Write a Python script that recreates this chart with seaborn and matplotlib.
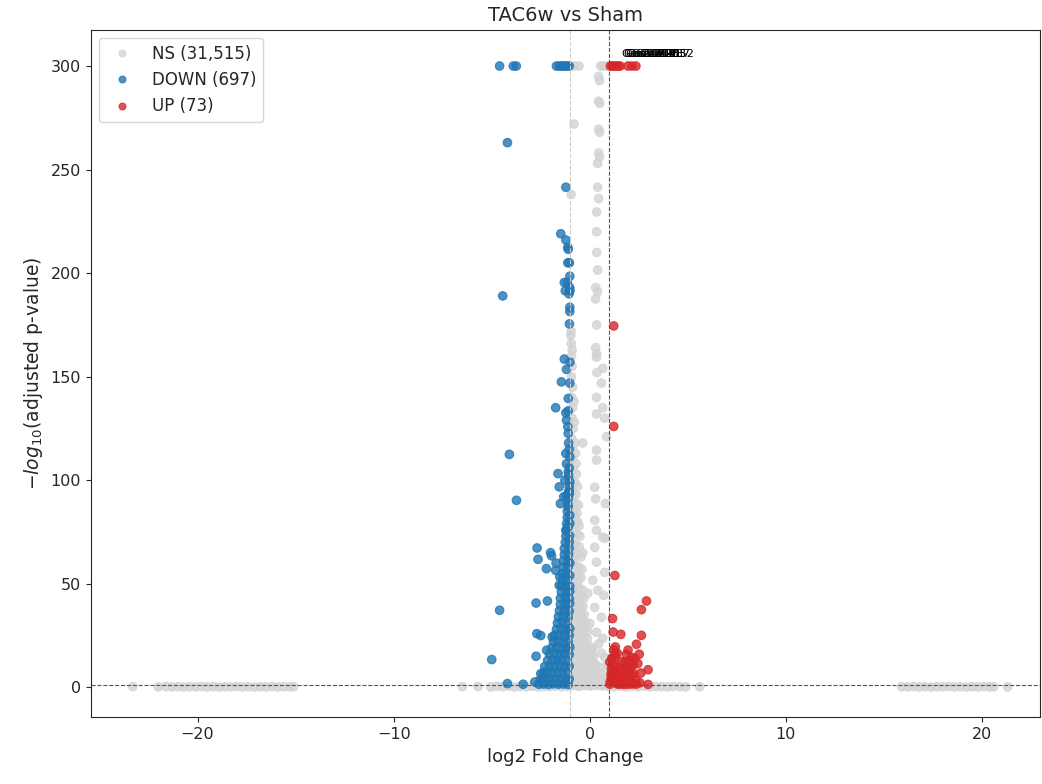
import pandas as pd
import matplotlib
matplotlib.use('Agg')
import matplotlib.pyplot as plt
import seaborn as sns

# values: (log2 fold change, -log10 adjusted p)
groups = ['NS', 'DOWN', 'UP']
group_counts = ['31,515', '697', '73']
group_colors = ['lightgray', '#1f77b4', '#d62728']

ns_far_left = [(-23.3, 0.3), (-22.0, 0.2), (-21.6, 0.4), (-21.3, 0.2), (-21.0, 0.3), (-20.7, 0.1),
               (-20.4, 0.3), (-20.1, 0.2), (-19.8, 0.4), (-19.5, 0.2), (-19.2, 0.3), (-18.9, 0.1),
               (-18.6, 0.3), (-18.3, 0.2), (-18.0, 0.4), (-17.7, 0.2), (-17.4, 0.3), (-17.1, 0.1),
               (-16.8, 0.3), (-16.5, 0.2), (-16.2, 0.4), (-15.9, 0.2), (-15.6, 0.3), (-15.3, 0.2),
               (-15.1, 0.3)]
ns_far_right = [(15.9, 0.3), (16.2, 0.2), (16.5, 0.4), (16.8, 0.2), (17.1, 0.3), (17.4, 0.1),
                (17.7, 0.3), (18.0, 0.2), (18.3, 0.4), (18.6, 0.2), (18.9, 0.3), (19.2, 0.1),
                (19.5, 0.3), (19.8, 0.2), (20.1, 0.4), (20.4, 0.2), (20.6, 0.3), (21.3, 0.2)]
ns_base = [(-6.5, 0.3), (-5.7, 0.4), (-5.05, 0.2), (-4.75, 0.5), (-4.45, 0.3), (-4.15, 0.6),
           (-3.85, 0.2), (-3.55, 0.4), (-3.25, 0.3), (-2.95, 0.5), (-2.65, 0.2), (-2.35, 0.4),
           (-2.05, 0.3), (-1.75, 0.6), (-1.45, 0.2), (-1.15, 0.4), (-0.85, 0.8), (-0.55, 0.5),
           (-0.25, 0.9), (0.05, 0.6), (0.35, 1.0), (0.65, 0.7), (0.95, 0.4), (1.25, 0.3),
           (1.55, 0.5), (1.85, 0.2), (2.15, 0.4), (2.45, 0.3), (2.75, 0.5), (3.05, 0.2),
           (3.35, 0.4), (3.65, 0.3), (3.95, 0.2), (4.25, 0.4), (4.6, 0.3), (4.9, 0.2), (5.6, 0.3)]
ns_tall = [(-0.8, 300), (-0.55, 300), (0.55, 300), (0.7, 300), (0.85, 300),
           (0.45, 295), (0.5, 293), (0.45, 283), (0.5, 282), (-0.8, 272), (0.45, 269.5),
           (0.5, 268), (0.45, 258), (0.5, 256), (0.4, 253), (0.4, 241.5), (-0.95, 238),
           (0.45, 236), (0.35, 229.5), (0.35, 220), (0.35, 210), (0.4, 201.5), (0.3, 193),
           (0.4, 191), (0.3, 187.5), (0.35, 175), (-0.97, 170), (-0.95, 166), (0.3, 164),
           (-0.9, 163), (0.35, 161), (0.34, 159.4), (0.66, 154), (0.36, 152), (0.59, 146.9),
           (0.34, 140), (0.66, 135), (0.34, 132), (0.76, 130), (0.85, 121), (-0.36, 118),
           (0.34, 114.5), (0.34, 109.7), (0.25, 96.6), (0.3, 91), (0.8, 88.7), (0.25, 80.7),
           (0.34, 75.8), (0.76, 72), (0.66, 72.5), (0.25, 67.6), (-0.36, 65), (0.34, 60.4),
           (0.76, 55.5), (0.15, 51.7), (0.41, 46.9), (-0.1, 45.4), (0.71, 44.4), (0.25, 38.6),
           (0.59, 33.8), (0.0, 30.9), (0.34, 26.6), (0.66, 23.7), (0.15, 18.8), (0.76, 14.5),
           (0.51, 9.7), (0.85, 6.8), (0.6, 16.5), (0.45, 21), (0.9, 11), (0.7, 3.5)]
ns_cone = [(-0.93, 150), (-0.88, 145), (-0.92, 140), (-0.8, 138), (-0.88, 135), (-0.9, 130),
           (-0.78, 128), (-0.85, 125), (-0.92, 120), (-0.75, 118), (-0.88, 115), (-0.72, 113),
           (-0.9, 110), (-0.7, 108), (-0.85, 105), (-0.68, 103), (-0.92, 100), (-0.75, 99),
           (-0.62, 97), (-0.88, 95), (-0.7, 93), (-0.92, 90), (-0.75, 89), (-0.58, 88),
           (-0.85, 85), (-0.65, 84), (-0.9, 80), (-0.72, 79), (-0.55, 78), (-0.85, 75),
           (-0.65, 74), (-0.5, 73), (-0.92, 70), (-0.75, 69), (-0.55, 68), (-0.85, 65),
           (-0.65, 64), (-0.45, 63), (-0.92, 60), (-0.75, 59), (-0.55, 58), (-0.4, 57),
           (-0.85, 55), (-0.65, 54), (-0.45, 53), (-0.92, 50), (-0.75, 49), (-0.55, 48),
           (-0.38, 47), (-0.85, 46), (-0.65, 45), (-0.45, 44), (-0.3, 43), (-0.92, 42),
           (-0.75, 41), (-0.55, 40), (-0.35, 39), (-0.85, 38), (-0.65, 37), (-0.45, 36),
           (-0.28, 35), (-0.92, 34), (-0.75, 33), (-0.55, 32), (-0.35, 31.5), (-0.2, 31),
           (-0.85, 30), (-0.65, 29), (-0.45, 28.5), (-0.25, 28), (-0.12, 27), (-0.92, 26),
           (-0.72, 25), (-0.52, 24.5), (-0.32, 24), (-0.12, 23.5), (-0.85, 22), (-0.65, 21.5),
           (-0.45, 21), (-0.25, 20.5), (-0.05, 20), (0.08, 19), (-0.92, 18), (-0.72, 17.5),
           (-0.52, 17), (-0.32, 16.5), (-0.12, 16), (0.08, 15.5), (0.2, 15), (-0.85, 14),
           (-0.65, 13.5), (-0.45, 13), (-0.25, 12.5), (-0.05, 12), (0.15, 11.5), (0.3, 11),
           (-0.92, 10), (-0.72, 9.5), (-0.52, 9), (-0.32, 8.5), (-0.12, 8), (0.08, 7.5),
           (0.28, 7.2), (0.42, 7), (-0.85, 6), (-0.65, 5.8), (-0.45, 5.5), (-0.25, 5.2),
           (-0.05, 5), (0.15, 4.8), (0.35, 4.5), (0.55, 4.2), (0.7, 4), (-0.92, 3),
           (-0.72, 2.8), (-0.52, 2.6), (-0.32, 2.4), (-0.12, 2.2), (0.08, 2.0), (0.28, 1.9),
           (0.48, 1.8), (0.68, 1.7), (0.88, 1.6), (-0.9, 1.2), (-0.6, 1.1), (-0.3, 1.0),
           (0.0, 1.2), (0.3, 1.1), (0.6, 0.9), (-0.93, 160), (-0.9, 155), (-0.95, 172),
           (-0.8, 62), (-0.6, 51), (-0.7, 43.5), (-0.5, 38), (-0.38, 33), (-0.6, 27),
           (-0.4, 22.5), (-0.18, 18), (0.0, 14), (-0.2, 10.5), (0.2, 9), (0.45, 3.2),
           (-0.4, 4), (0.0, 3.5), (-0.6, 7.5), (-0.8, 83), (-0.62, 80), (-0.85, 92)]

down_top = [(-4.6, 300), (-3.9, 300), (-3.75, 300), (-1.7, 300), (-1.55, 300), (-1.45, 300),
            (-1.35, 300), (-1.25, 300), (-1.15, 300), (-1.05, 300)]
down_outliers = [(-4.2, 263), (-1.22, 241.5), (-4.44, 189), (-4.1, 112.5), (-3.74, 90.3),
                 (-4.6, 37.2), (-5.0, 13.4), (-4.2, 1.8), (-3.4, 1.5), (-2.8, 2.6), (-2.69, 67.3),
                 (-2.64, 61.8), (-2.0, 65), (-1.95, 63.5), (-2.21, 57.3), (-1.74, 56.5),
                 (-1.72, 60), (-1.53, 53.3), (-1.56, 49.3), (-2.74, 40.7), (-2.16, 41.7),
                 (-2.7, 25.9), (-2.5, 25), (-1.92, 24.3), (-2.74, 15), (-2.2, 17.9),
                 (-2.5, 6.6), (-2.4, 5)]
down_column = [(-1.48, 219), (-1.22, 216), (-1.12, 212.5), (-1.1, 211.5), (-1.12, 205),
               (-1.04, 205), (-1.02, 198.5), (-1.3, 195.5), (-1.15, 195.5), (-1.02, 193),
               (-1.01, 191.5), (-1.25, 191.5), (-1.06, 190), (-1.02, 183.5), (-1.02, 181.5),
               (-1.04, 175.5), (-1.3, 158.5), (-1.01, 157), (-1.19, 153.5), (-1.45, 147.5),
               (-1.02, 146.9), (-1.74, 135), (-1.1, 139.5), (-1.22, 132.5), (-1.1, 133.5),
               (-1.19, 129), (-1.12, 125.8), (-1.1, 122.6), (-1.22, 112.9), (-1.02, 111.3),
               (-1.19, 108), (-1.62, 103.2), (-1.27, 100), (-1.02, 99.2), (-1.56, 96.8),
               (-1.33, 92), (-1.19, 92.3), (-1.5, 88.7), (-1.1, 87.1), (-1.22, 75.8),
               (-1.1, 77.4), (-1.08, 118), (-1.05, 115), (-1.1, 104), (-1.05, 95)]
down_dense = [(-2.6, 1.5), (-2.35, 1.6), (-2.1, 1.4), (-1.85, 1.7), (-1.6, 1.5), (-1.35, 1.6), (-1.1, 1.4),
              (-2.5, 4), (-2.25, 4.2), (-2.0, 3.8), (-1.75, 4.1), (-1.5, 3.9), (-1.25, 4.2), (-1.05, 4),
              (-2.35, 7.2), (-2.15, 7), (-1.9, 6.8), (-1.65, 7.1), (-1.4, 6.9), (-1.15, 7.2),
              (-2.3, 10), (-2.05, 10.2), (-1.8, 9.8), (-1.55, 10.1), (-1.3, 9.9), (-1.05, 10.2),
              (-2.15, 13), (-1.9, 13.2), (-1.65, 12.8), (-1.4, 13.1), (-1.15, 12.9),
              (-2.05, 16), (-1.8, 16.2), (-1.55, 15.8), (-1.3, 16.1), (-1.05, 15.9),
              (-1.95, 19), (-1.7, 19.2), (-1.45, 18.8), (-1.2, 19.1), (-1.02, 19.4),
              (-1.85, 22), (-1.6, 22.2), (-1.35, 21.8), (-1.1, 22.1),
              (-1.8, 25.2), (-1.55, 25), (-1.3, 24.8), (-1.05, 25.1),
              (-1.7, 28), (-1.45, 28.2), (-1.2, 27.8), (-1.02, 28.4),
              (-1.65, 31), (-1.4, 31.2), (-1.15, 30.8),
              (-1.6, 34), (-1.35, 34.2), (-1.1, 33.8),
              (-1.55, 37), (-1.3, 37.2), (-1.05, 36.8),
              (-1.5, 40), (-1.25, 40.2), (-1.03, 40.5),
              (-1.5, 43), (-1.25, 43.2), (-1.05, 42.8),
              (-1.45, 46), (-1.2, 46.2), (-1.02, 46.5),
              (-1.45, 49), (-1.2, 49.2), (-1.02, 48.8),
              (-1.4, 52), (-1.15, 52.2), (-1.4, 55), (-1.15, 55.2), (-1.02, 54),
              (-1.35, 58), (-1.1, 58.2), (-1.35, 61), (-1.1, 61.2), (-1.02, 60),
              (-1.3, 64), (-1.08, 64.2), (-1.3, 67), (-1.05, 67.2),
              (-1.25, 70), (-1.05, 70.2), (-1.22, 73), (-1.03, 73.2),
              (-1.2, 76), (-1.18, 79), (-1.02, 79.2), (-1.15, 82), (-1.02, 83),
              (-1.15, 85), (-1.12, 88.5), (-1.1, 91), (-1.04, 93.5), (-1.1, 94), (-1.05, 97),
              (-1.08, 102), (-1.05, 106)]

up_top = [(1.05, 300), (1.15, 300), (1.25, 300), (1.35, 300), (1.45, 300), (1.55, 300),
          (1.95, 300), (2.15, 300), (2.35, 300)]
up_points = [(1.22, 174.5), (1.22, 126), (1.28, 54), (2.89, 41.7), (2.63, 37.5), (1.16, 33.2),
             (1.19, 26.7), (1.58, 25.6), (2.63, 25.1), (2.38, 20.8), (1.22, 18.2), (1.28, 16),
             (1.3, 14.6), (1.87, 16), (2.52, 16), (2.3, 13.9), (2.04, 13), (1.78, 12.2),
             (1.02, 12.2), (2.21, 10.6), (1.53, 9), (1.7, 8.2), (2.97, 8.5), (2.6, 6.9),
             (1.95, 7.4), (1.19, 7.4), (2.13, 5.8), (1.1, 5), (1.19, 4.2), (1.78, 2.4),
             (2.36, 3.7), (2.97, 1.4), (1.02, 1.5), (1.53, 1.5), (1.95, 1.5), (2.36, 1.5),
             (1.05, 3), (1.1, 9), (1.15, 11), (1.3, 2.2), (1.4, 6), (1.45, 3.5), (1.6, 4.8),
             (1.65, 2), (1.85, 10), (1.9, 4), (2.05, 9.5), (2.1, 2.5), (2.25, 6.5),
             (2.45, 11.5), (1.35, 10.5), (1.6, 12.5), (1.7, 5.5), (1.25, 7.8), (1.08, 6.5),
             (2.0, 6), (2.2, 2), (1.5, 3), (1.4, 1.6), (1.75, 1.4), (2.15, 1.6), (2.55, 2.2),
             (1.12, 14), (1.4, 16.5), (1.95, 18), (2.15, 14.5), (1.3, 19.5)]

# labelled top genes (illegible in the reference, drawn on top of each other)
top_genes = ['Gm42418', 'Gm26917', 'Gm10800', 'Gm13341', 'Gm47283', 'Gm21887', 'Gm49552']
top_gene_lfc = [1.25, 1.35, 1.45, 1.55, 1.75, 1.95, 2.15]
top_gene_score = [300, 300, 300, 300, 300, 300, 300]

rows = []
for grp, pts in [('NS', ns_far_left + ns_far_right + ns_base + ns_tall + ns_cone),
                 ('DOWN', down_top + down_outliers + down_column + down_dense),
                 ('UP', up_top + up_points)]:
    for lfc, score in pts:
        rows.append({'log2FC': lfc, 'score': score, 'group': grp})
df = pd.DataFrame(rows)

sns.set_style('ticks')
plt.rcParams['font.family'] = ['DejaVu Sans']

fig, ax = plt.subplots(figsize=(10.42, 7.84), dpi=100)
sns.scatterplot(data=df, x='log2FC', y='score', hue='group', hue_order=groups,
                palette=dict(zip(groups, group_colors)), s=38, alpha=0.8,
                edgecolor='face', linewidth=0.8, ax=ax)

ax.axhline(1.3, color='#555555', linestyle='--', linewidth=0.8)
ax.axvline(-1, color='#cccccc', linestyle='--', linewidth=0.8)
ax.axvline(1, color='#555555', linestyle='--', linewidth=0.8)

for name, x, y in zip(top_genes, top_gene_lfc, top_gene_score):
    ax.annotate(name, (x, y), xytext=(5, 9), textcoords='offset points',
                fontsize=8, va='center', color='black')

handles, _ = ax.get_legend_handles_labels()
ax.legend(handles, [f'{g} ({c})' for g, c in zip(groups, group_counts)],
          loc='upper left', fontsize=12, markerscale=0.8, frameon=True)

ax.set_xlim(-25.45, 22.95)
ax.set_ylim(-14.5, 317.5)
ax.set_title('TAC6w vs Sham', fontsize=14)
ax.set_xlabel('log2 Fold Change', fontsize=13)
ax.set_ylabel(r'$-log_{10}$(adjusted p-value)', fontsize=13.5)
ax.tick_params(labelsize=11.5)
for side in ['top', 'right']:
    ax.spines[side].set_visible(True)

plt.subplots_adjust(left=0.087, right=0.998, top=0.962, bottom=0.085)
plt.savefig('out.png', dpi=100)
